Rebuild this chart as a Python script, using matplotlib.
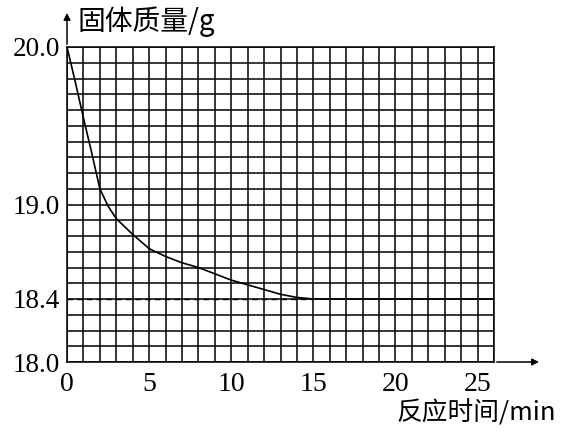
import matplotlib.pyplot as plt

# reaction time (min) and solid mass (g)
time_min = [0, 0.5, 1, 1.5, 2, 2.5, 3, 4, 5, 6, 7, 8, 9, 10, 11, 12, 13, 14, 15, 16, 20, 26]
mass_g = [20.0, 19.78, 19.55, 19.33, 19.1, 18.99, 18.91, 18.81, 18.72, 18.67, 18.63, 18.6,
          18.56, 18.52, 18.49, 18.46, 18.43, 18.41, 18.4, 18.4, 18.4, 18.4]

y_labels = {20.0: "20.0", 19.0: "19.0", 18.4: "18.4", 18.0: "18.0"}
x_labels = {0: "0", 5: "5", 10: "10", 15: "15", 20: "20", 25: "25"}
plateau = 18.4
plateau_start = 15

serif = ["Liberation Serif", "DejaVu Serif"]
cjk = ["Noto Sans CJK SC", "Liberation Serif"]

fig = plt.figure(figsize=(5.62, 4.32), dpi=100)
ax = fig.add_axes([67 / 562, 70 / 432, 427 / 562, 315 / 432])

ax.set_xlim(0, 26)
ax.set_ylim(18.0, 20.0)

xt = list(range(0, 27))
yt = [round(18.0 + 0.1 * i, 1) for i in range(21)]
ax.set_xticks(xt)
ax.set_xticklabels([x_labels.get(v, "") for v in xt], fontfamily=serif, fontsize=20)
ax.set_yticks(yt)
ax.set_yticklabels([y_labels.get(v, "") for v in yt], fontfamily=serif, fontsize=19.5)
ax.tick_params(axis="x", length=0, pad=7)
ax.tick_params(axis="y", length=0, pad=5)
ax.grid(True, color="black", linewidth=1.1)
for s in ax.spines.values():
    s.set_linewidth(1.1)

ax.plot(time_min, mass_g, color="black", linewidth=1.2, zorder=3)
ax.plot([0, plateau_start], [plateau, plateau], color="black", linestyle=(0, (4, 3)),
        linewidth=1.0, zorder=3)

# axis arrows
ax.annotate("", xy=(0, 1.117), xytext=(0, 1.0), xycoords="axes fraction",
            arrowprops=dict(arrowstyle="-|>", color="black", lw=1.1, mutation_scale=10))
ax.annotate("", xy=(1.112, 0), xytext=(1.0, 0), xycoords="axes fraction",
            arrowprops=dict(arrowstyle="-|>", color="black", lw=1.1, mutation_scale=10))

ax.text(0.025, 1.08, "固体质量/g", transform=ax.transAxes, fontfamily=cjk,
        fontsize=20, ha="left", va="center")
ax.text(1.145, -0.163, "反应时间/min", transform=ax.transAxes, fontfamily=cjk,
        fontsize=18.5, ha="right", va="center")

fig.savefig("out.png", dpi=100)
